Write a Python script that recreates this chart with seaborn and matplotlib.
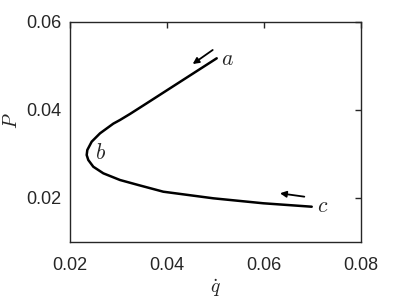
import numpy as np
import pandas as pd
import matplotlib
matplotlib.use("Agg")
import matplotlib.pyplot as plt
import seaborn as sns

# curve a -> b -> c
q_dot = [0.05025, 0.04062, 0.03581, 0.03237, 0.03031, 0.02893, 0.02619, 0.02447,
         0.02357, 0.02344, 0.02377, 0.02480, 0.02687, 0.03031, 0.03408, 0.03924,
         0.04955, 0.05986, 0.06984]
p_tilde = [0.05175, 0.04493, 0.04152, 0.03910, 0.03773, 0.03690, 0.03470, 0.03280,
           0.03091, 0.02977, 0.02864, 0.02711, 0.02561, 0.02409, 0.02295, 0.02143,
           0.01993, 0.01880, 0.01802]

# labels a, b, c
point_names = ["a", "b", "c"]
point_x = [0.0524, 0.0262, 0.0720]
point_y = [0.0514, 0.0302, 0.0180]

# arrows (tail -> head)
arrow_tail = [(0.04942, 0.05364), (0.06831, 0.02030)]
arrow_head = [(0.04530, 0.05045), (0.06330, 0.02107)]

x_ticks = [0.02, 0.04, 0.06, 0.08]
y_ticks = [0.02, 0.04, 0.06]

sns.set_theme(style="white")
plt.rcParams["font.family"] = ["Liberation Sans", "DejaVu Sans"]
plt.rcParams["mathtext.fontset"] = "cm"

df = pd.DataFrame({"q": q_dot, "P": p_tilde})

fig = plt.figure(figsize=(3.99, 2.99), dpi=100)
ax = fig.add_axes([70 / 399, 57 / 299, 291 / 399, 220 / 299])

# estimator=None so repeated x values are not averaged
sns.lineplot(data=df, x="q", y="P", sort=False, estimator=None, errorbar=None,
             color="black", lw=1.8, ax=ax)

for t, h in zip(arrow_tail, arrow_head):
    ax.annotate("", xy=h, xytext=t,
                arrowprops=dict(arrowstyle="-|>", color="black", lw=1.3,
                                mutation_scale=9, shrinkA=0, shrinkB=0))

for name, x, y in zip(point_names, point_x, point_y):
    ax.text(x, y, f"${name}$", fontsize=15.5, ha="center", va="center")

ax.set_xlim(0.02, 0.08)
ax.set_ylim(0.01, 0.06)
ax.set_xticks(x_ticks)
ax.set_yticks(y_ticks)
ax.set_xticklabels([f"{v:.2f}" for v in x_ticks])
ax.set_yticklabels([f"{v:.2f}" for v in y_ticks])
ax.tick_params(direction="in", length=4, width=1, colors="#262626",
               labelsize=13, top=True, right=True)
ax.tick_params(axis="x", pad=11)
ax.tick_params(axis="y", pad=6)
for s in ax.spines.values():
    s.set_color("#262626")
    s.set_linewidth(1.0)

ax.set_xlabel(r"$\dot{q}$", fontsize=14)
ax.set_ylabel(r"$\tilde{P}$", fontsize=14)
ax.xaxis.set_label_coords(0.5, -0.16)
ax.yaxis.set_label_coords(-0.165, 0.55)

fig.savefig("out.png", dpi=100)
